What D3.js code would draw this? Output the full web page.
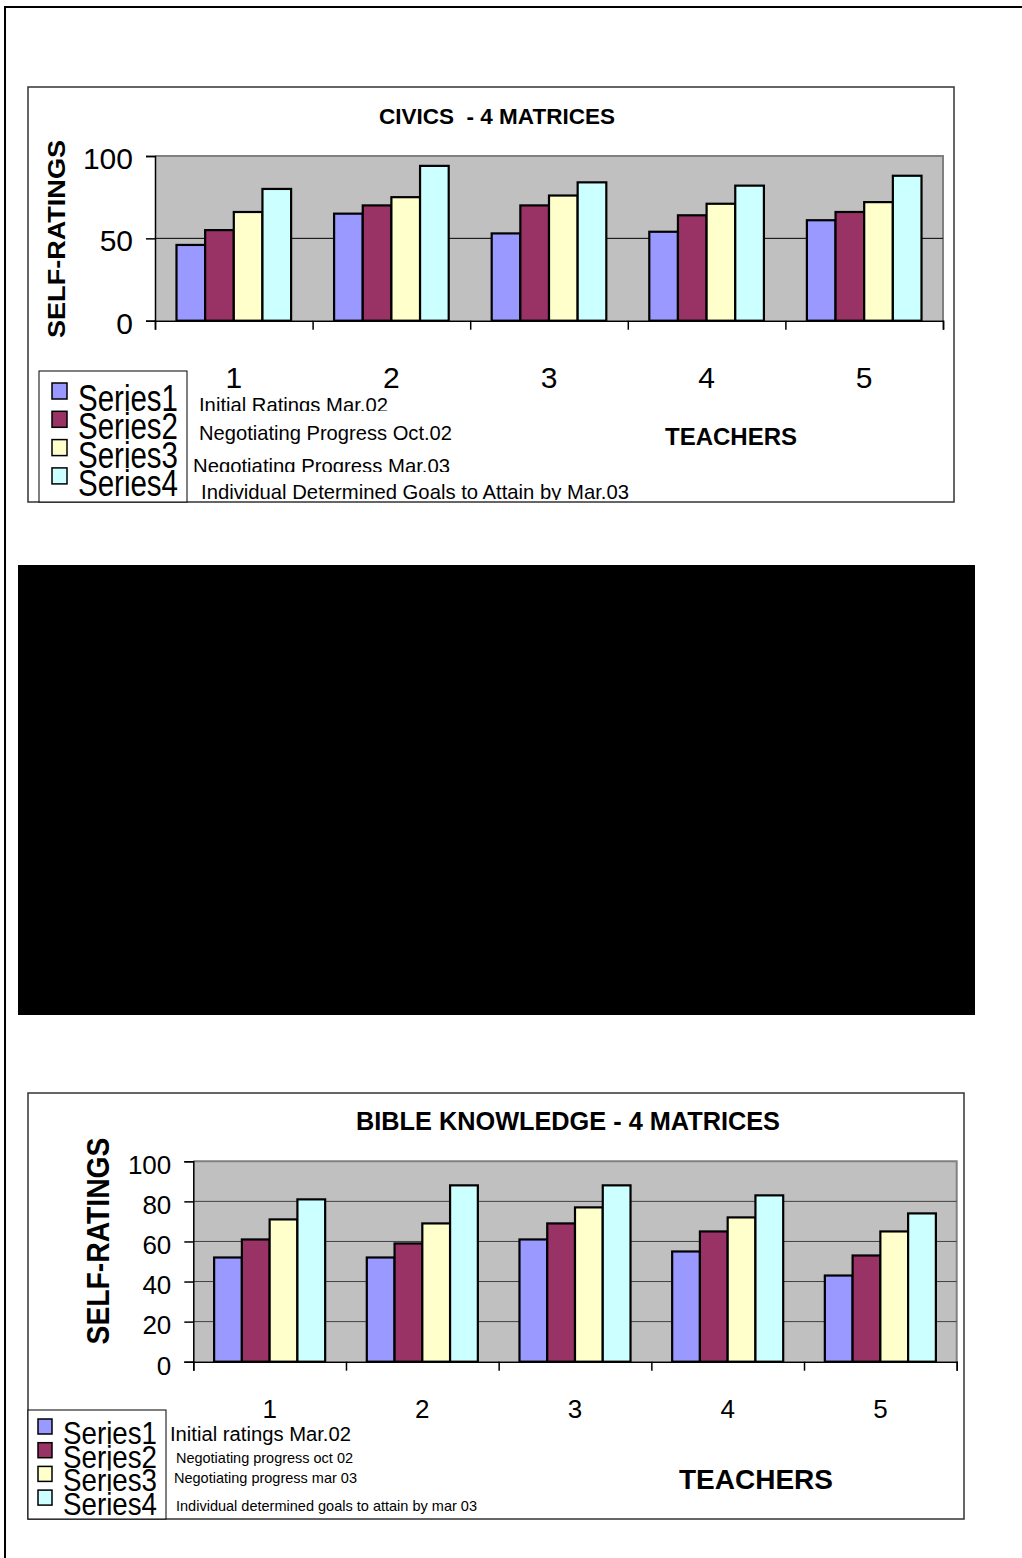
<!DOCTYPE html>
<html>
<head>
<meta charset="utf-8">
<script src="https://cdn.jsdelivr.net/npm/d3@7"></script>
<style>
  body { margin: 0; background: #fff; }
  svg { display: block; font-family: Arial, "Liberation Sans", sans-serif; }
</style>
</head>
<body>
<svg id="page" width="1022" height="1558"></svg>
<script>
const teachers = ["1", "2", "3", "4", "5"];
const seriesNames = ["Series1", "Series2", "Series3", "Series4"];
const seriesColors = ["#9999ff", "#993366", "#ffffcc", "#ccffff"];

// civics - self ratings per teacher
const civicsInitial = [46, 65, 53, 54, 61];
const civicsOct02 = [55, 70, 70, 64, 66];
const civicsMar03 = [66, 75, 76, 71, 72];
const civicsGoals = [80, 94, 84, 82, 88];
const civicsTicks = [0, 50, 100];
const civicsNotes = [
  "Initial Ratings Mar.02",
  "Negotiating Progress Oct.02",
  "Negotiating Progress Mar.03",
  "Individual Determined Goals to Attain by Mar.03"
];

// bible knowledge - self ratings per teacher
const bibleInitial = [52, 52, 61, 55, 43];
const bibleOct02 = [61, 59, 69, 65, 53];
const bibleMar03 = [71, 69, 77, 72, 65];
const bibleGoals = [81, 88, 88, 83, 74];
const bibleTicks = [0, 20, 40, 60, 80, 100];
const bibleNotes = [
  "Initial ratings Mar.02",
  "Negotiating progress oct 02",
  "Negotiating progress mar 03",
  "Individual determined goals to attain by mar 03"
];

const svg = d3.select("#page");

// page frame (top + left rule)
svg.append("line").attr("x1", 5).attr("x2", 1022).attr("y1", 7).attr("y2", 7)
  .attr("stroke", "#000").attr("stroke-width", 2);
svg.append("line").attr("x1", 5).attr("x2", 5).attr("y1", 6).attr("y2", 1558)
  .attr("stroke", "#000").attr("stroke-width", 2);

// the blacked-out chart in the middle
svg.append("rect").attr("x", 18).attr("y", 565).attr("width", 957).attr("height", 450)
  .attr("fill", "#000");

function drawChart(c) {
  const g = svg.append("g");
  g.append("rect")
    .attr("x", c.box[0]).attr("y", c.box[1])
    .attr("width", c.box[2] - c.box[0]).attr("height", c.box[3] - c.box[1])
    .attr("fill", "#fff").attr("stroke", "#333").attr("stroke-width", 1.5);

  const x = d3.scaleBand().domain(teachers).range([c.plot[0], c.plot[2]]);
  const xs = d3.scaleBand().domain(seriesNames).range([0, x.bandwidth()]).paddingOuter(0.75);
  const y = d3.scaleLinear().domain([0, 100]).range([c.plot[3], c.plot[1]]);

  // plot area
  g.append("rect")
    .attr("x", c.plot[0]).attr("y", c.plot[1])
    .attr("width", c.plot[2] - c.plot[0]).attr("height", c.plot[3] - c.plot[1])
    .attr("fill", "#c0c0c0");
  g.append("path")
    .attr("d", `M${c.plot[0]},${c.plot[1]}H${c.plot[2]}V${c.plot[3]}`)
    .attr("fill", "none").attr("stroke", "#808080").attr("stroke-width", 2);

  g.append("g").selectAll("line")
    .data(c.ticks.filter(d => d > 0 && d < 100))
    .join("line")
    .attr("x1", c.plot[0]).attr("x2", c.plot[2])
    .attr("y1", d => y(d)).attr("y2", d => y(d))
    .attr("stroke", c.gridColor).attr("stroke-width", 1);

  // bars
  g.append("g").selectAll("g")
    .data(c.series)
    .join("g")
    .attr("fill", (d, i) => seriesColors[i])
    .selectAll("rect")
    .data((vals, i) => vals.map((v, j) => ({ t: teachers[j], s: seriesNames[i], v })))
    .join("rect")
    .attr("x", d => x(d.t) + xs(d.s))
    .attr("width", xs.bandwidth())
    .attr("y", d => y(d.v))
    .attr("height", d => y(0) - y(d.v))
    .attr("stroke", "#000").attr("stroke-width", 2.2);

  // y axis
  const yAxis = g.append("g")
    .attr("transform", `translate(${c.plot[0]},0)`)
    .call(d3.axisLeft(y).tickValues(c.ticks).tickSize(9).tickPadding(c.yPad));
  yAxis.select(".domain").attr("stroke", "#000").attr("stroke-width", 1.5);
  yAxis.selectAll(".tick line").attr("stroke", "#000").attr("stroke-width", 1.5);
  yAxis.selectAll("text")
    .attr("font-size", c.yFont).attr("fill", "#000")
    .attr("font-family", "Arial, 'Liberation Sans', sans-serif")
    .attr("dy", "0.32em").attr("y", c.yShift);

  // x axis: tick marks on category boundaries, labels at centres
  const xb = d3.scaleLinear().domain([0, teachers.length]).range([c.plot[0], c.plot[2]]);
  const xTicks = g.append("g")
    .attr("transform", `translate(0,${c.plot[3]})`)
    .call(d3.axisBottom(xb).tickValues(d3.range(teachers.length + 1)).tickSize(9).tickFormat(""));
  xTicks.select(".domain").attr("stroke", "#000").attr("stroke-width", 1.5);
  xTicks.selectAll(".tick line").attr("stroke", "#000").attr("stroke-width", 1.5);

  const xLabels = g.append("g")
    .attr("transform", `translate(0,${c.plot[3]})`)
    .call(d3.axisBottom(x).tickSize(0).tickPadding(c.xPad));
  xLabels.select(".domain").remove();
  xLabels.selectAll("text")
    .attr("font-size", c.xFont).attr("fill", "#000")
    .attr("font-family", "Arial, 'Liberation Sans', sans-serif");

  // title and axis titles
  g.append("text")
    .attr("x", c.title.x).attr("y", c.title.y)
    .attr("text-anchor", "middle").attr("font-weight", "bold")
    .attr("font-size", c.title.size)
    .style("white-space", "pre")
    .text(c.title.text);
  g.append("text")
    .attr("transform", `translate(${c.yTitle.x},${c.yTitle.y}) rotate(-90)`)
    .attr("text-anchor", "middle").attr("font-weight", "bold")
    .attr("font-size", c.yTitle.size)
    .attr("textLength", c.yTitle.len).attr("lengthAdjust", "spacingAndGlyphs")
    .text("SELF-RATINGS");
  g.append("text")
    .attr("x", c.xTitle.x).attr("y", c.xTitle.y)
    .attr("font-weight", "bold").attr("font-size", c.xTitle.size)
    .text("TEACHERS");

  // legend
  const L = c.legend;
  g.append("rect")
    .attr("x", L.box[0]).attr("y", L.box[1])
    .attr("width", L.box[2] - L.box[0]).attr("height", L.box[3] - L.box[1])
    .attr("fill", "#fff").attr("stroke", "#000").attr("stroke-width", 1);
  const items = g.append("g").selectAll("g")
    .data(seriesNames)
    .join("g")
    .attr("transform", (d, i) => `translate(0,${L.top + i * L.step})`);
  items.append("rect")
    .attr("x", L.swX).attr("y", 0).attr("width", L.sw).attr("height", L.sh)
    .attr("fill", (d, i) => seriesColors[i]).attr("stroke", "#000").attr("stroke-width", 1.5);
  items.append("text")
    .attr("x", L.textX).attr("y", L.base)
    .attr("font-size", L.size)
    .attr("textLength", L.len).attr("lengthAdjust", "spacingAndGlyphs")
    .text(d => d);

  // description labels beside the legend (some are cut off in the original)
  c.notes.forEach((n, i) => {
    const p = c.notePos[i];
    const id = `clip-${c.id}-${i}`;
    const h = p.clip !== undefined ? p.size * 1.2 + p.clip : p.size * 2;
    g.append("clipPath").attr("id", id)
      .append("rect").attr("x", p.x - 5).attr("y", p.y - p.size * 1.2)
      .attr("width", 700).attr("height", h);
    g.append("text")
      .attr("x", p.x).attr("y", p.y)
      .attr("font-size", p.size)
      .attr("textLength", p.len).attr("lengthAdjust", "spacingAndGlyphs")
      .attr("clip-path", `url(#${id})`)
      .text(n);
  });
}

drawChart({
  id: "civics",
  box: [28, 87, 954, 502],
  plot: [155, 156, 943, 320.7],
  series: [civicsInitial, civicsOct02, civicsMar03, civicsGoals],
  ticks: civicsTicks,
  gridColor: "#000",
  yFont: 30,
  xFont: 30,
  yPad: 13,
  yShift: 3,
  xPad: 46,
  title: { text: "CIVICS  - 4 MATRICES", x: 497, y: 124, size: 22.5 },
  yTitle: { x: 65, y: 239, size: 23, len: 198 },
  xTitle: { x: 665, y: 445, size: 24 },
  legend: {
    box: [39, 371, 187, 502],
    top: 383, step: 28.3, swX: 52, sw: 15, sh: 16,
    textX: 78, base: 28, size: 36, len: 100
  },
  notes: civicsNotes,
  notePos: [
    { x: 199, y: 412, size: 21, len: 189, clip: -1 },
    { x: 199, y: 440, size: 21, len: 253 },
    { x: 193, y: 473, size: 21, len: 257, clip: -1 },
    { x: 201, y: 499, size: 21, len: 428, clip: 1 }
  ]
});

drawChart({
  id: "bible",
  box: [28, 1093, 964, 1519],
  plot: [193.3, 1161.3, 956.7, 1361.7],
  series: [bibleInitial, bibleOct02, bibleMar03, bibleGoals],
  ticks: bibleTicks,
  gridColor: "#404040",
  yFont: 26,
  xFont: 26,
  yPad: 13,
  yShift: 4,
  xPad: 38,
  title: { text: "BIBLE KNOWLEDGE - 4 MATRICES", x: 568, y: 1130, size: 25.3 },
  yTitle: { x: 109, y: 1241, size: 31, len: 207 },
  xTitle: { x: 679, y: 1489, size: 28 },
  legend: {
    box: [28, 1410, 166, 1519],
    top: 1419, step: 23.7, swX: 38, sw: 14, sh: 15,
    textX: 63, base: 25, size: 32, len: 94
  },
  notes: bibleNotes,
  notePos: [
    { x: 170, y: 1441, size: 20, len: 181 },
    { x: 176, y: 1463, size: 14.5, len: 177 },
    { x: 174, y: 1483, size: 14.5, len: 183 },
    { x: 176, y: 1511, size: 14.5, len: 301 }
  ]
});
</script>
</body>
</html>
